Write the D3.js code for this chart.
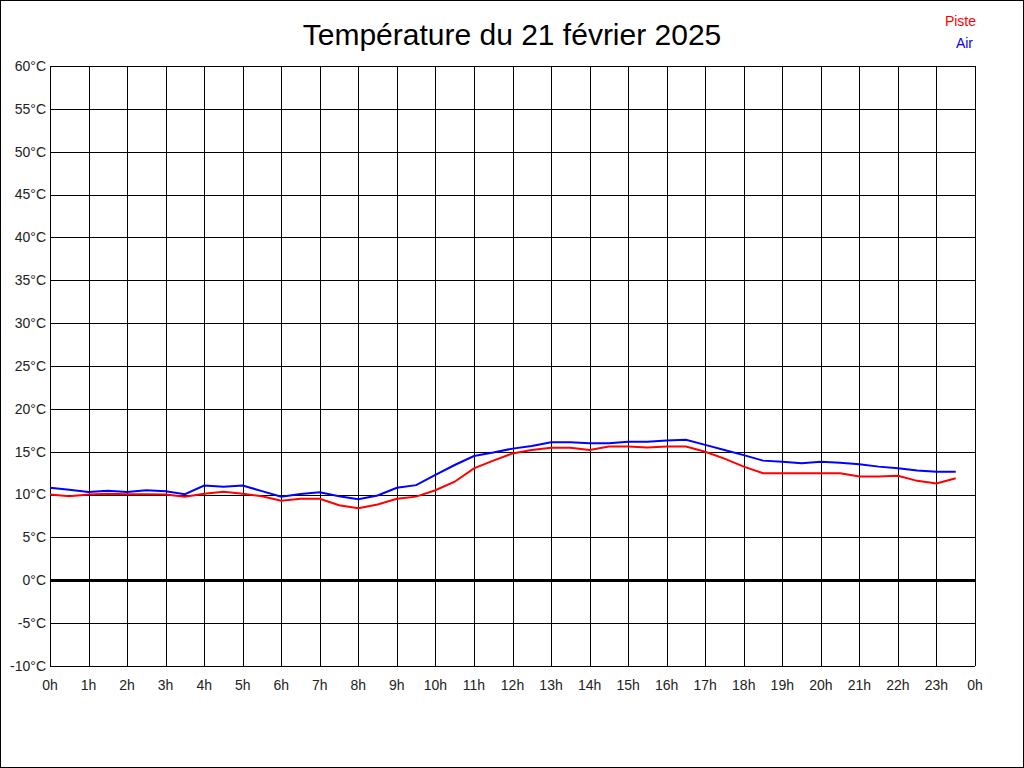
<!DOCTYPE html>
<html>
<head>
<meta charset="utf-8">
<script src="https://cdn.jsdelivr.net/npm/d3@7"></script>
<style>
  body { margin: 0; background: #fff; }
  svg { display: block; font-family: "Liberation Sans", Arial, sans-serif; }
</style>
</head>
<body>
<div id="chart"></div>
<script>
// half-hour readings, 0h .. 23h30
const hours = d3.range(0, 24, 0.5);

const airTemps = [
  10.8, 10.55, 10.3, 10.45, 10.3, 10.5, 10.4, 10.05, 11.05, 10.9, 11.05, 10.4,
  9.76, 10.07, 10.26, 9.8, 9.45, 9.9, 10.8, 11.1, 12.3, 13.45, 14.5, 14.9,
  15.36, 15.67, 16.1, 16.1, 16.0, 16.0, 16.15, 16.15, 16.3, 16.4, 15.8, 15.2,
  14.6, 13.96, 13.84, 13.65, 13.84, 13.7, 13.53, 13.26, 13.06, 12.8, 12.67, 12.67
];

const pisteTemps = [
  10.0, 9.8, 10.0, 10.1, 10.05, 10.05, 10.0, 9.76, 10.1, 10.34, 10.1, 9.8,
  9.29, 9.5, 9.5, 8.75, 8.4, 8.85, 9.5, 9.76, 10.5, 11.5, 13.06, 13.96,
  14.8, 15.2, 15.47, 15.47, 15.2, 15.6, 15.6, 15.5, 15.6, 15.6, 15.0, 14.2,
  13.26, 12.48, 12.48, 12.48, 12.48, 12.48, 12.1, 12.1, 12.2, 11.6, 11.3, 11.9
];

const xTicks = d3.range(0, 25);
const yTicks = d3.range(-10, 61, 5);

const series = [
  { name: 'Piste', color: '#ff0000', values: pisteTemps },
  { name: 'Air', color: '#0000ff', values: airTemps },
];

const W = 1024, H = 768;
const margin = { top: 66, right: 49, bottom: 102, left: 50 };

const svg = d3.select('#chart').append('svg')
  .attr('width', W).attr('height', H);

svg.append('rect')
  .attr('x', 0.5).attr('y', 0.5).attr('width', W - 1).attr('height', H - 1)
  .attr('fill', '#fff').attr('stroke', '#000');

const x = d3.scaleLinear().domain([0, 24]).range([margin.left, W - margin.right]);
const y = d3.scaleLinear().domain([-10, 60]).range([H - margin.bottom, margin.top]);

const crisp = (v) => Math.round(v) + 0.5;

// grid
const grid = svg.append('g').attr('stroke', '#000').attr('stroke-width', 1);
grid.selectAll('.vx').data(xTicks).join('line')
  .attr('x1', (d) => crisp(x(d))).attr('x2', (d) => crisp(x(d)))
  .attr('y1', y(60)).attr('y2', y(-10));
grid.selectAll('.hy').data(yTicks).join('line')
  .attr('y1', (d) => crisp(y(d))).attr('y2', (d) => crisp(y(d)))
  .attr('x1', x(0)).attr('x2', x(24));

// zero line
svg.append('line')
  .attr('x1', x(0)).attr('x2', x(24))
  .attr('y1', crisp(y(0))).attr('y2', crisp(y(0)))
  .attr('stroke', '#000').attr('stroke-width', 3);

// axes labels
svg.append('g').selectAll('text').data(yTicks).join('text')
  .attr('x', x(0) - 4).attr('y', (d) => y(d))
  .attr('dy', '0.35em').attr('text-anchor', 'end')
  .attr('font-size', 14).attr('fill', '#222')
  .text((d) => `${d}°C`);

svg.append('g').selectAll('text').data(xTicks).join('text')
  .attr('x', (d) => x(d)).attr('y', y(-10) + 24)
  .attr('text-anchor', 'middle')
  .attr('font-size', 14).attr('fill', '#222')
  .text((d) => `${d % 24}h`);

// series
const line = d3.line().x((d, i) => x(hours[i])).y((d) => y(d));
svg.append('g').selectAll('path').data(series).join('path')
  .attr('d', (s) => line(s.values))
  .attr('fill', 'none')
  .attr('stroke', (s) => s.color)
  .attr('stroke-width', 2);

// title
svg.append('text')
  .attr('x', 512).attr('y', 45)
  .attr('text-anchor', 'middle')
  .attr('font-size', 30).attr('fill', '#000')
  .text('Température du 21 février 2025');

// legend
svg.append('g').selectAll('text').data(series).join('text')
  .attr('x', (d, i) => (i === 0 ? 976 : 973))
  .attr('y', (d, i) => 26 + i * 22)
  .attr('text-anchor', 'end')
  .attr('font-size', 14)
  .attr('fill', (d) => d.color)
  .text((d) => d.name);
</script>
</body>
</html>
